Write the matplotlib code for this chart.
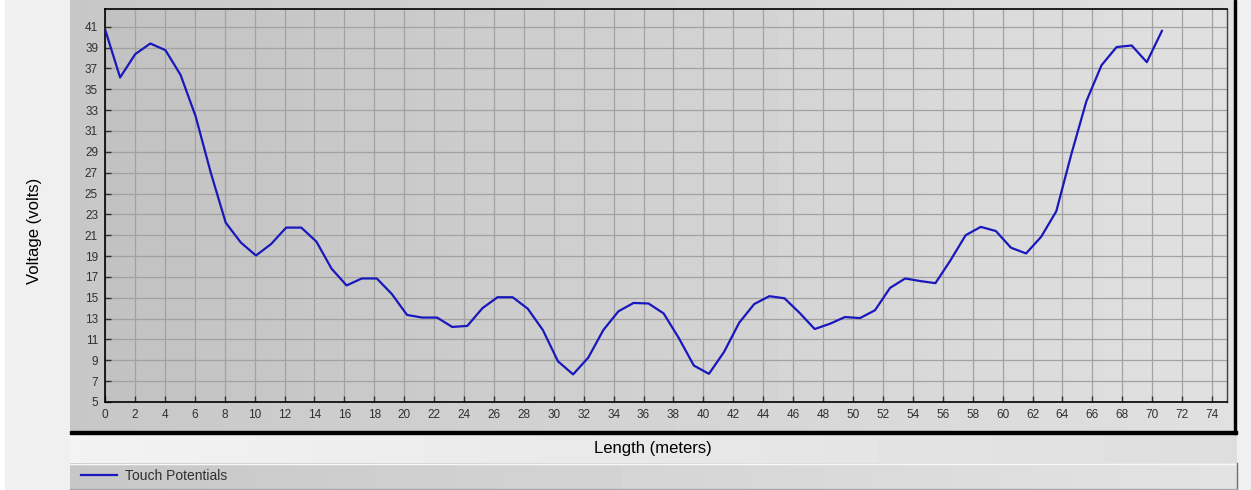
import numpy as np
import matplotlib.pyplot as plt
from matplotlib.patches import Rectangle

# touch potential profile along the measured length
length_m = [0.0, 1.01, 2.02, 3.03, 4.04, 5.05, 6.06, 7.07, 8.07, 9.08,
            10.09, 11.10, 12.11, 13.12, 14.13, 15.14, 16.15, 17.16, 18.17, 19.18,
            20.19, 21.20, 22.20, 23.21, 24.22, 25.23, 26.24, 27.25, 28.26, 29.27,
            30.28, 31.29, 32.30, 33.31, 34.32, 35.33, 36.33, 37.34, 38.35, 39.36,
            40.37, 41.38, 42.39, 43.40, 44.41, 45.42, 46.43, 47.44, 48.45, 49.46,
            50.47, 51.47, 52.48, 53.49, 54.50, 55.51, 56.52, 57.53, 58.54, 59.55,
            60.56, 61.57, 62.58, 63.59, 64.60, 65.60, 66.61, 67.62, 68.63, 69.64,
            70.65]
touch_volts = [40.77, 36.13, 38.37, 39.39, 38.75, 36.38, 32.4, 27.0, 22.2, 20.3,
               19.05, 20.15, 21.73, 21.73, 20.39, 17.8, 16.18, 16.85, 16.85, 15.35,
               13.35, 13.1, 13.1, 12.2, 12.3, 14.0, 15.05, 15.05, 13.95, 11.9,
               8.9, 7.65, 9.25, 11.9, 13.7, 14.5, 14.45, 13.5, 11.15, 8.5,
               7.7, 9.8, 12.6, 14.4, 15.15, 14.95, 13.55, 12.0, 12.5, 13.15,
               13.05, 13.8, 15.95, 16.85, 16.6, 16.4, 18.6, 21.0, 21.8, 21.4,
               19.8, 19.25, 20.85, 23.3, 28.8, 33.85, 37.3, 39.05, 39.2, 37.6,
               40.6]
x_ticks = list(range(0, 75, 2))
y_ticks = list(range(5, 42, 2))
series_name = "Touch Potentials"

W, H = 1251, 490
plt.rcParams['font.family'] = ['Liberation Sans', 'DejaVu Sans']

fig = plt.figure(figsize=(W / 100, H / 100), dpi=100)
fig.patch.set_facecolor('white')

# background layer in pixel coordinates
bg = fig.add_axes([0, 0, 1, 1])
bg.set_xlim(0, W)
bg.set_ylim(H, 0)
bg.axis('off')


def hgrad(x0, x1, y0, y1, c0, c1, z=0):
    g = np.linspace(c0, c1, 256).reshape(1, -1)
    bg.imshow(g, cmap='gray', vmin=0, vmax=1, extent=(x0, x1, y1, y0),
              aspect='auto', interpolation='bilinear', zorder=z)


bg.add_patch(Rectangle((5, 0), W - 5, H, color='#f0f0f0', zorder=-1))
hgrad(70, 1236, 0, 432, 0.78, 0.88)            # chart panel
bg.add_patch(Rectangle((70, 431), 1167, 2.5, color='black', zorder=2))
bg.add_patch(Rectangle((1233.5, 0), 2.5, 433.5, color='black', zorder=2))
hgrad(70, 1237, 434, 463, 0.95, 0.87)          # x-label band
hgrad(70, 1237, 463, 489, 0.78, 0.89)          # legend bar
bg.plot([70, 1237], [463.5, 463.5], color='#f8f8f8', lw=1, zorder=3)
bg.plot([1236.5, 1236.5], [463, 489], color='#707070', lw=1, zorder=3)
bg.plot([70, 1237], [488.5, 488.5], color='#a8a8a8', lw=1, zorder=3)

# plot area
left, right, top, bottom = 105, 1227, 9, 402
ax = fig.add_axes([left / W, 1 - bottom / H, (right - left) / W, (bottom - top) / H])
ax.set_facecolor('none')
g = np.linspace(0.76, 0.88, 256).reshape(1, -1)
ax.imshow(g, cmap='gray', vmin=0, vmax=1, extent=(0, 1, 0, 1), transform=ax.transAxes,
          aspect='auto', interpolation='bilinear', zorder=0)

line, = ax.plot(length_m, touch_volts, color='#1818bc', lw=1.6, zorder=3,
                label=series_name, solid_joinstyle='round')

ax.set_xlim(0, 75)
ax.set_ylim(5, 42.7)
ax.set_xticks(x_ticks)
ax.set_yticks(y_ticks)
ax.grid(True, color='#a2a2a2', lw=0.9, zorder=1)
ax.set_axisbelow(True)
ax.tick_params(direction='in', length=4, width=1, color='#303030',
               labelsize=8.5, labelcolor='#303030')
ax.tick_params(axis='x', pad=5)
ax.tick_params(axis='y', pad=5)
for side in ['left', 'bottom', 'top']:
    ax.spines[side].set_color('black')
    ax.spines[side].set_linewidth(1.2)
ax.spines['right'].set_color('#404040')
ax.spines['right'].set_linewidth(1)

fig.text(653 / W, 1 - 448 / H, "Length (meters)", ha='center', va='center',
         fontsize=12, color='black')
fig.text(34 / W, 1 - 231 / H, "Voltage (volts)", ha='center', va='center',
         rotation=90, fontsize=12, color='black')

fig.legend(handles=[line], loc='center left', bbox_to_anchor=(75 / W, 1 - 476 / H),
           frameon=False, fontsize=10, handlelength=2.6, handletextpad=0.6,
           labelcolor='#303030', borderaxespad=0)

fig.savefig('out.png', dpi=100)
